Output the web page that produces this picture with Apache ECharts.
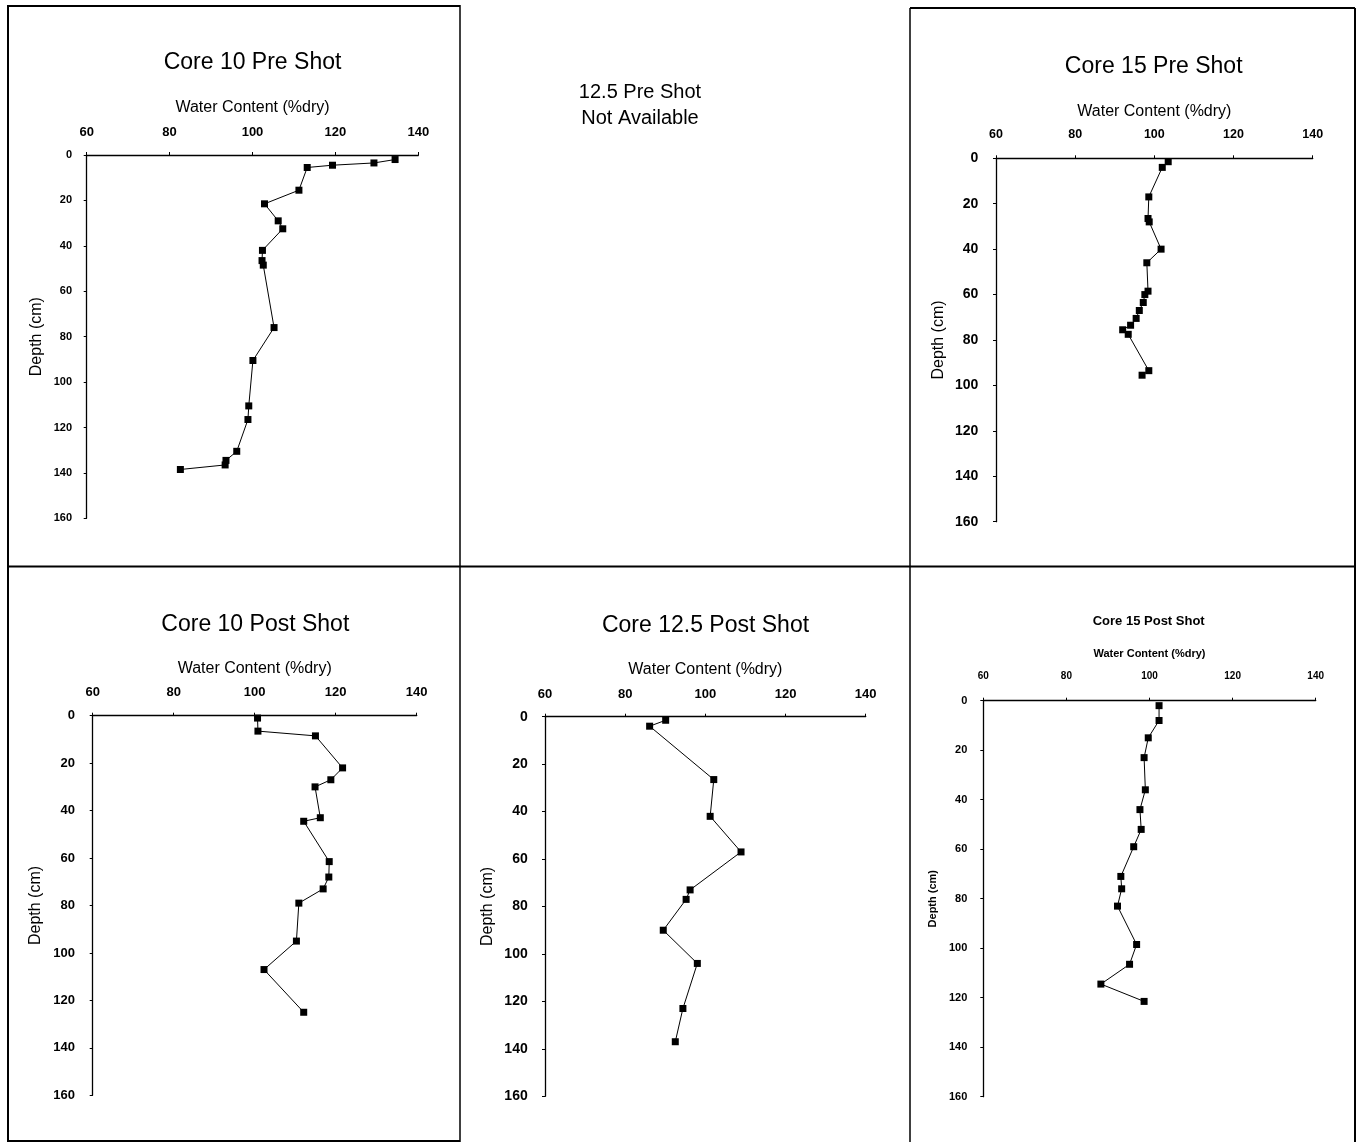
<!DOCTYPE html>
<html>
<head>
<meta charset="utf-8">
<title>Core Water Content Profiles</title>
<script src="https://cdn.jsdelivr.net/npm/echarts@6/dist/echarts.min.js"></script>
<style>
  html, body { margin: 0; padding: 0; background: #fff; }
  #chart { width: 1356px; height: 1142px; }
</style>
</head>
<body>
<div id="chart"></div>
<script>
// Water content (% dry) versus depth (cm) for each core
const xTicks = [60, 80, 100, 120, 140];
const yTicks = [0, 20, 40, 60, 80, 100, 120, 140, 160];

const core10PreDepth = [2, 3.5, 4.5, 5.5, 15.5, 21.5, 29, 32.5, 42, 46.5, 48.5, 76, 90.5, 110.5, 116.5, 130.5, 134.5, 136.5, 138.5];
const core10PreWater = [134.4, 129.3, 119.3, 113.2, 111.2, 102.9, 106.2, 107.3, 102.4, 102.3, 102.6, 105.2, 100.1, 99.1, 98.9, 96.2, 93.6, 93.4, 82.6];

const core15PreDepth = [1.5, 4, 17, 26.5, 28, 40, 46, 58.5, 60, 63.5, 67, 70.5, 73.5, 75.5, 77.5, 93.5, 95.5];
const core15PreWater = [103.5, 102.0, 98.6, 98.4, 98.7, 101.7, 98.1, 98.4, 97.6, 97.2, 96.2, 95.4, 94.0, 92.0, 93.4, 98.6, 96.9];

const core10PostDepth = [1, 6.5, 8.5, 22, 27, 30, 43, 44.5, 61.5, 68, 73, 79, 95, 107, 125];
const core10PostWater = [100.7, 100.8, 115.0, 121.7, 118.8, 114.9, 116.2, 112.1, 118.4, 118.3, 116.9, 110.9, 110.3, 102.3, 112.1];

const core125PostDepth = [1.5, 4, 26.5, 42, 57, 73, 77, 90, 104, 123, 137];
const core125PostWater = [90.1, 86.1, 102.1, 101.2, 108.9, 96.2, 95.2, 89.5, 98.0, 94.4, 92.5];

const core15PostDepth = [2, 8, 15, 23, 36, 44, 52, 59, 71, 76, 83, 98.5, 106.5, 114.5, 121.5];
const core15PostWater = [102.3, 102.3, 99.7, 98.7, 99.0, 97.7, 98.0, 96.2, 93.1, 93.3, 92.3, 96.9, 95.2, 88.3, 98.7];

const xName = 'Water Content (%dry)';
const yName = 'Depth (cm)';
const FONT = '"Liberation Sans", Arial, sans-serif';

// Panel layout: plot box, title, and text sizing for each profile
const panels = [
  { title: 'Core 10 Pre Shot', water: core10PreWater, depth: core10PreDepth,
    box: [86.7, 155, 331.6, 363.3], titleXY: [252.5, 63], titleFont: 'normal 23px',
    nameSize: 16, nameWeight: 'normal', xLab: 13, yLab: 11, xMargin: 23, yMargin: 14.7,
    xGap: 47, yGap: 50 },
  { title: 'Core 15 Pre Shot', water: core15PreWater, depth: core15PreDepth,
    box: [996, 158.3, 316.7, 363.4], titleXY: [1153.7, 66.7], titleFont: 'normal 23px',
    nameSize: 16, nameWeight: 'normal', xLab: 12.5, yLab: 14, xMargin: 23.3, yMargin: 17.7,
    xGap: 46.6, yGap: 57.7 },
  { title: 'Core 10 Post Shot', water: core10PostWater, depth: core10PostDepth,
    box: [92.7, 715.7, 324, 379.6], titleXY: [255.3, 624.2], titleFont: 'normal 23px',
    nameSize: 16, nameWeight: 'normal', xLab: 13, yLab: 13, xMargin: 23.4, yMargin: 17.7,
    xGap: 47.4, yGap: 56.7 },
  { title: 'Core 12.5 Post Shot', water: core125PostWater, depth: core125PostDepth,
    box: [545, 716.7, 320.7, 379.6], titleXY: [705.5, 625.3], titleFont: 'normal 23px',
    nameSize: 16, nameWeight: 'normal', xLab: 13, yLab: 14, xMargin: 22.7, yMargin: 17.3,
    xGap: 46.7, yGap: 57.7 },
  { title: 'Core 15 Post Shot', water: core15PostWater, depth: core15PostDepth,
    box: [983.3, 700.7, 332.4, 396], titleXY: [1148.7, 621.7], titleFont: 'bold 13px',
    nameSize: 11, nameWeight: 'bold', xLab: 10, yLab: 11, xMargin: 24.4, yMargin: 16,
    xGap: 46.4, yGap: 50 }
];

const grid = [], xAxis = [], yAxis = [], series = [], graphic = [];

panels.forEach((p, i) => {
  grid.push({ left: p.box[0], top: p.box[1], width: p.box[2], height: p.box[3], containLabel: false });
  xAxis.push({
    gridIndex: i, type: 'value', position: 'top',
    min: xTicks[0], max: xTicks[xTicks.length - 1], interval: 20,
    name: xName, nameLocation: 'middle', nameGap: p.xGap,
    nameTextStyle: { fontFamily: FONT, fontSize: p.nameSize, fontWeight: p.nameWeight, color: '#000', verticalAlign: 'middle' },
    axisLine: { show: true, onZero: false, lineStyle: { color: '#000', width: 1.3 } },
    axisTick: { show: true, inside: false, length: 3, lineStyle: { color: '#000' } },
    axisLabel: { fontFamily: FONT, fontSize: p.xLab, fontWeight: 'bold', color: '#000', margin: p.xMargin, verticalAlign: 'middle' },
    splitLine: { show: false }
  });
  yAxis.push({
    gridIndex: i, type: 'value', inverse: true,
    min: yTicks[0], max: yTicks[yTicks.length - 1], interval: 20,
    name: yName, nameLocation: 'middle', nameGap: p.yGap,
    nameTextStyle: { fontFamily: FONT, fontSize: p.nameSize, fontWeight: p.nameWeight, color: '#000', verticalAlign: 'middle' },
    axisLine: { show: true, onZero: false, lineStyle: { color: '#000', width: 1.3 } },
    axisTick: { show: true, inside: false, length: 3, lineStyle: { color: '#000' } },
    axisLabel: { fontFamily: FONT, fontSize: p.yLab, fontWeight: 'bold', color: '#000', margin: p.yMargin, align: 'right' },
    splitLine: { show: false }
  });
  series.push({
    type: 'line', xAxisIndex: i, yAxisIndex: i,
    data: p.water.map((w, k) => [w, p.depth[k]]),
    symbol: 'rect', symbolSize: 7, showAllSymbol: true,
    lineStyle: { color: '#000', width: 1 },
    itemStyle: { color: '#000', borderWidth: 0 },
    animation: false, silent: true
  });
  graphic.push({
    type: 'text', x: p.titleXY[0], y: p.titleXY[1],
    style: { text: p.title, font: p.titleFont + ' ' + FONT, fill: '#000', textAlign: 'center', textVerticalAlign: 'middle' }
  });
});

// Notice in the empty top-middle cell
graphic.push({
  type: 'text', x: 640, y: 105,
  style: { text: '12.5 Pre Shot\nNot Available', font: 'normal 20px ' + FONT, fill: '#000',
           textAlign: 'center', textVerticalAlign: 'middle', lineHeight: 26 }
});

// Cell frames
function seg(x1, y1, x2, y2, w) {
  return { type: 'line', shape: { x1, y1, x2, y2 }, style: { stroke: '#000', lineWidth: w }, silent: true };
}
graphic.push(
  seg(8, 6, 460, 6, 2),          // top of left cell
  seg(910, 8, 1355, 8, 2),       // top of right cell
  seg(8, 5, 8, 1142, 2),         // left edge
  seg(460, 5, 460, 1142, 1.5),   // divider left/middle
  seg(910, 8, 910, 1142, 1.5),   // divider middle/right
  seg(1355, 8, 1355, 1142, 2),   // right edge
  seg(8, 566.5, 1355, 566.5, 2), // row divider
  seg(8, 1141, 460, 1141, 2)     // bottom of left cell
);

const chart = echarts.init(document.getElementById('chart'), null, { renderer: 'canvas' });
chart.setOption({
  animation: false,
  backgroundColor: '#fff',
  grid, xAxis, yAxis, series, graphic
});
</script>
</body>
</html>
